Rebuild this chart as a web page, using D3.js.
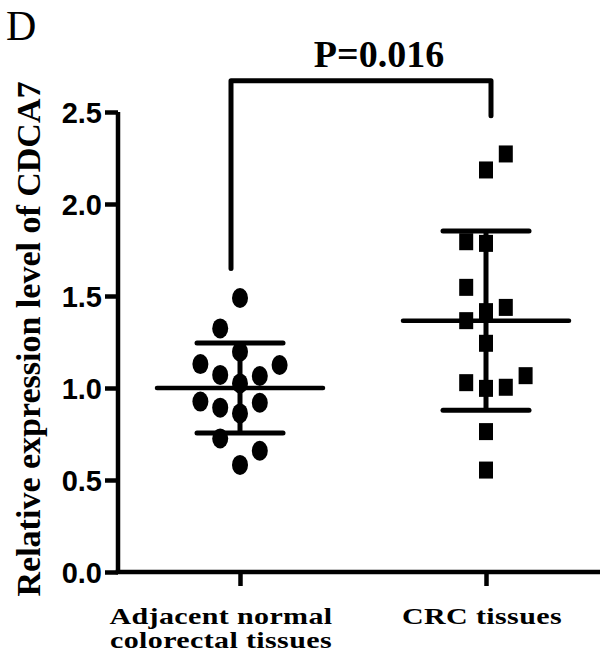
<!DOCTYPE html>
<html>
<head>
<meta charset="utf-8">
<script src="https://cdn.jsdelivr.net/npm/d3@7"></script>
<style>
  html, body { margin: 0; padding: 0; background: #fff; }
  svg { display: block; }
</style>
</head>
<body>
<svg id="chart" width="602" height="658"></svg>
<script>
// ---------------- data ----------------
const groups = ["Adjacent normal colorectal tissues", "CRC tissues"];
const groupLabelLines = [["Adjacent normal", "colorectal tissues"], ["CRC tissues"]];
const normalValues = [1.489, 1.324, 1.197, 1.130, 1.125, 1.071, 1.065, 1.025, 0.926, 0.893, 0.920, 0.862, 0.726, 0.659, 0.582];
const normalSlots  = [0, -1, 0, -2, 2, -1, 1, 0, -2, -1, 1, 0, -1, 1, 0];
const crcValues = [2.272, 2.185, 1.795, 1.786, 1.547, 1.438, 1.415, 1.366, 1.243, 1.067, 1.029, 0.998, 1.004, 0.763, 0.554];
const crcSlots  = [1, 0, -1, 0, -1, 1, 0, -1, 0, 2, -1, 0, 1, 0, 0];
const means = [1.0, 1.366];
const sds = [0.245, 0.487];
const yTicks = [0.0, 0.5, 1.0, 1.5, 2.0, 2.5];
const pLabel = "P=0.016";
const bracketLevels = [1.65, 2.67, 2.48]; // left foot, top, right foot
const yTitle = "Relative expression level of CDCA7";
const panelLetter = "D";

// ---------------- layout ----------------
const svg = d3.select("#chart");
const axisX = 118, axisYBottom = 572, axisYTop = 112, xAxisRight = 600;
const y = d3.scaleLinear().domain([0, 2.5]).range([axisYBottom, axisYTop]);
const x = d3.scalePoint().domain(groups).range([240, 486]);
const slotStep = 19.8;
const lw = 4.5;

// y axis
const yAxis = d3.axisLeft(y).tickValues(yTicks).tickFormat(d3.format(".1f")).tickSize(13).tickPadding(3);
const gy = svg.append("g").attr("transform", `translate(${axisX},0)`).call(yAxis);
gy.select(".domain").attr("d", `M0,${axisYTop}V${axisYBottom}`).attr("stroke", "#000").attr("stroke-width", lw);
gy.selectAll(".tick line").attr("stroke", "#000").attr("stroke-width", lw);
gy.selectAll(".tick text")
  .attr("fill", "#000")
  .style("font-family", "'Liberation Sans Narrow', 'Arial Narrow', 'Liberation Sans', sans-serif")
  .style("font-weight", "bold")
  .style("font-size", "29px")
  .attr("dy", "0.36em");

// x axis
const xAxis = d3.axisBottom(x).tickSize(14).tickFormat("");
const gx = svg.append("g").attr("transform", `translate(0,${axisYBottom})`).call(xAxis);
gx.select(".domain").attr("d", `M${axisX - lw/2},0H${xAxisRight}`).attr("stroke", "#000").attr("stroke-width", lw);
gx.selectAll(".tick line").attr("stroke", "#000").attr("stroke-width", lw);

// x labels
const labelOffsets = [-19, -4];
groups.forEach((g, i) => {
  const t = svg.append("text")
    .attr("transform", `translate(${x(g) + labelOffsets[i]},624) scale(1.25,1)`)
    .attr("text-anchor", "middle")
    .style("font-family", "'Liberation Serif', 'Times New Roman', serif")
    .style("font-weight", "bold")
    .style("font-size", "24px")
    .style("letter-spacing", "0.3px");
  groupLabelLines[i].forEach((line, j) => {
    t.append("tspan").attr("x", 0).attr("dy", j === 0 ? 0 : 24).text(line);
  });
});

// mean & sd
const meanHalf = 83, capHalf = 43;
groups.forEach((g, i) => {
  const cx = x(g);
  svg.append("line").attr("x1", cx).attr("x2", cx)
    .attr("y1", y(means[i] - sds[i])).attr("y2", y(means[i] + sds[i]))
    .attr("stroke", "#000").attr("stroke-width", lw + 0.5);
  [means[i] - sds[i], means[i] + sds[i]].forEach(v => {
    svg.append("line").attr("x1", cx - capHalf).attr("x2", cx + capHalf)
      .attr("y1", y(v)).attr("y2", y(v))
      .attr("stroke", "#000").attr("stroke-width", lw + 0.5).attr("stroke-linecap", "round");
  });
  svg.append("line").attr("x1", cx - meanHalf).attr("x2", cx + meanHalf)
    .attr("y1", y(means[i])).attr("y2", y(means[i]))
    .attr("stroke", "#000").attr("stroke-width", lw).attr("stroke-linecap", "round");
});

// points
const normalData = normalValues.map((v, i) => ({ v, s: normalSlots[i] }));
const crcData = crcValues.map((v, i) => ({ v, s: crcSlots[i] }));
svg.append("g").selectAll("ellipse").data(normalData).join("ellipse")
  .attr("cx", d => x(groups[0]) + d.s * slotStep)
  .attr("cy", d => y(d.v))
  .attr("rx", 8).attr("ry", 10)
  .attr("fill", "#000");
svg.append("g").selectAll("rect").data(crcData).join("rect")
  .attr("x", d => x(groups[1]) + d.s * slotStep - 7)
  .attr("y", d => y(d.v) - 8.5)
  .attr("width", 14).attr("height", 17)
  .attr("fill", "#000");

// significance bracket
const bx1 = 231, bx2 = 491;
svg.append("path")
  .attr("d", `M${bx1},${y(bracketLevels[0])}V${y(bracketLevels[1])}H${bx2}V${y(bracketLevels[2])}`)
  .attr("fill", "none").attr("stroke", "#000").attr("stroke-width", 5)
  .attr("stroke-linejoin", "round").attr("stroke-linecap", "round");
svg.append("text")
  .attr("x", (bx1 + bx2) / 2 + 18).attr("y", 67)
  .attr("text-anchor", "middle")
  .style("font-family", "'Liberation Serif', 'Times New Roman', serif")
  .style("font-weight", "bold")
  .style("font-size", "38px")
  .text(pLabel);

// y title
svg.append("text")
  .attr("transform", `translate(40,${339}) rotate(-90)`)
  .attr("text-anchor", "middle")
  .style("font-family", "'Liberation Serif', 'Times New Roman', serif")
  .style("font-weight", "bold")
  .style("font-size", "34px")
  .text(yTitle);

// panel letter
svg.append("text")
  .attr("x", 6).attr("y", 40)
  .style("font-family", "'Liberation Serif', 'Times New Roman', serif")
  .style("font-size", "42px")
  .text(panelLetter);
</script>
</body>
</html>
